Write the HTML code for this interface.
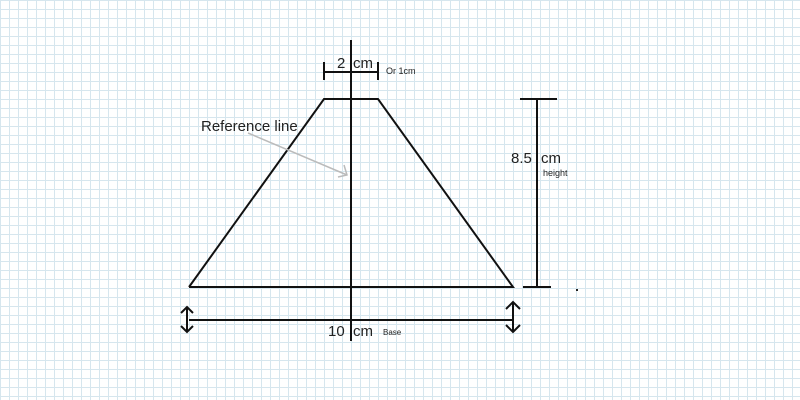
<!DOCTYPE html>
<html><head><style>
html,body{margin:0;padding:0;width:800px;height:400px;overflow:hidden;background:#fff}
.g{position:absolute;left:0;top:0;width:800px;height:400px;
background-image:linear-gradient(to right,#d6e6ee 1px,transparent 1px),linear-gradient(to bottom,#d6e6ee 1px,transparent 1px);
background-size:9px 9px;background-position:0 0}
svg{position:absolute;left:0;top:0}
text{font-family:"Liberation Sans",sans-serif;fill:#222}
</style></head><body>
<div class="g"></div>
<svg width="800" height="400" viewBox="0 0 800 400">
<g stroke="#111" stroke-width="2" fill="none">
<line x1="351" y1="40" x2="351" y2="341"/>
<polyline points="189,287 324,99 378,99 513,287 189,287"/>
<line x1="324" y1="72" x2="378" y2="72"/>
<line x1="324" y1="62" x2="324" y2="80"/>
<line x1="378" y1="62" x2="378" y2="80"/>
<line x1="537" y1="99" x2="537" y2="287"/>
<line x1="520" y1="99" x2="557" y2="99"/>
<line x1="523" y1="287" x2="551" y2="287"/>
<line x1="189" y1="320" x2="513" y2="320"/>
<line x1="187" y1="307" x2="187" y2="332"/>
<polyline points="181,313 187,307 193,313"/>
<polyline points="181,326 187,332 193,326"/>
<line x1="513" y1="302" x2="513" y2="332"/>
<polyline points="506,309 513,302 520,309"/>
<polyline points="506,325 513,332 520,325"/>
</g>
<g stroke="#bbb" stroke-width="1.5" fill="none">
<line x1="248" y1="133" x2="347" y2="175"/>
<polyline points="344,165 347,175 338,177"/>
</g>
<rect x="576" y="289" width="2" height="2" fill="#222"/>
<text x="337" y="68" font-size="15">2</text>
<text x="353" y="68" font-size="15">cm</text>
<text x="386" y="74" font-size="9">Or 1cm</text>
<text x="201" y="131" font-size="15">Reference line</text>
<text x="511" y="163" font-size="15">8.5</text>
<text x="541" y="163" font-size="15">cm</text>
<text x="543" y="176" font-size="9">height</text>
<text x="328" y="336" font-size="15">10</text>
<text x="353" y="336" font-size="15">cm</text>
<text x="383" y="335" font-size="8">Base</text>
</svg>
</body></html>
